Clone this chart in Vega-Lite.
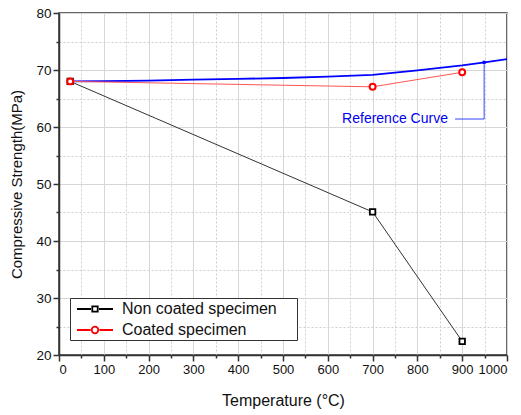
{
  "$schema": "https://vega.github.io/schema/vega-lite/v6.json",
  "width": 448,
  "height": 342,
  "autosize": {"type": "none"},
  "padding": {"left": 59, "top": 13, "right": 14, "bottom": 60},
  "config": {
    "font": "Liberation Sans",
    "view": {"stroke": "#333333", "strokeWidth": 1.5},
    "axis": {"labelFont": "Liberation Sans", "titleFont": "Liberation Sans", "labelColor": "#111", "titleColor": "#111", "titleFontWeight": "normal"}
  },
  "datasets": {
    "series": [
      {"temp": 25, "strength": 68.0, "series": "Non coated specimen"},
      {"temp": 700, "strength": 45.1, "series": "Non coated specimen"},
      {"temp": 900, "strength": 22.4, "series": "Non coated specimen"},
      {"temp": 25, "strength": 68.0, "series": "Coated specimen"},
      {"temp": 700, "strength": 67.05, "series": "Coated specimen"},
      {"temp": 900, "strength": 69.6, "series": "Coated specimen"}
    ],
    "ref": [
      {"temp": 25, "strength": 68.0},
      {"temp": 100, "strength": 68.05},
      {"temp": 200, "strength": 68.15},
      {"temp": 300, "strength": 68.3},
      {"temp": 400, "strength": 68.45},
      {"temp": 500, "strength": 68.6},
      {"temp": 600, "strength": 68.85},
      {"temp": 700, "strength": 69.15},
      {"temp": 800, "strength": 69.95},
      {"temp": 900, "strength": 70.8},
      {"temp": 950, "strength": 71.35},
      {"temp": 1000, "strength": 71.9}
    ],
    "leader": [
      {"temp": 884, "strength": 61.4, "order": 1},
      {"temp": 949, "strength": 61.4, "order": 2},
      {"temp": 949, "strength": 71.35, "order": 3}
    ],
    "annot": [
      {"temp": 750, "strength": 61.4, "label": "Reference Curve"}
    ]
  },
  "resolve": {"axis": {"x": "independent", "y": "independent"}},
  "layer": [
    {
      "data": {"name": "ref"},
      "mark": {"type": "line", "color": "#0000ff", "strokeWidth": 1.8},
      "encoding": {
        "x": {"field": "temp", "type": "quantitative", "scale": {"domain": [0, 1000], "nice": false},
          "axis": {"orient": "bottom", "values": [50,150,250,350,450,550,650,750,850,950], "labels": false, "domain": false, "ticks": true, "tickSize": 3, "tickColor": "#333", "tickWidth": 1.5, "grid": true, "gridColor": "#cfcfcf", "gridDash": [2, 2], "gridWidth": 1, "title": null}},
        "y": {"field": "strength", "type": "quantitative", "scale": {"domain": [20, 80], "nice": false, "zero": false},
          "axis": {"orient": "left", "values": [25,35,45,55,65,75], "labels": false, "domain": false, "ticks": true, "tickSize": 3, "tickColor": "#333", "tickWidth": 1.5, "grid": true, "gridColor": "#cfcfcf", "gridDash": [2, 2], "gridWidth": 1, "title": null}}
      }
    },
    {
      "data": {"name": "series"},
      "transform": [{"filter": "datum.series == 'Non coated specimen'"}],
      "mark": {"type": "line", "color": "#333333", "strokeWidth": 1},
      "encoding": {
        "x": {"field": "temp", "type": "quantitative",
          "axis": {"orient": "bottom", "values": [0,100,200,300,400,500,600,700,800,900,1000], "format": "d", "domain": true, "domainColor": "#333", "domainWidth": 1.5, "tickSize": 6, "tickColor": "#333", "tickWidth": 1.5, "labelFontSize": 13, "labelPadding": 2, "grid": true, "gridColor": "#d6d6d6", "gridWidth": 1, "title": "Temperature (°C)", "titleFontSize": 16, "titlePadding": 16}},
        "y": {"field": "strength", "type": "quantitative",
          "axis": {"orient": "left", "values": [20,30,40,50,60,70,80], "format": "d", "domain": true, "domainColor": "#333", "domainWidth": 1.5, "tickSize": 6, "tickColor": "#333", "tickWidth": 1.5, "labelFontSize": 13.5, "labelPadding": 2, "grid": true, "gridColor": "#d6d6d6", "gridWidth": 1, "title": "Compressive Strength(MPa)", "titleFontSize": 15, "titlePadding": 11}}
      }
    },
    {
      "data": {"name": "series"},
      "transform": [{"filter": "datum.series == 'Coated specimen'"}],
      "mark": {"type": "line", "color": "#ff5555", "strokeWidth": 1},
      "encoding": {
        "x": {"field": "temp", "type": "quantitative", "axis": null},
        "y": {"field": "strength", "type": "quantitative", "axis": null}
      }
    },
    {
      "data": {"name": "series"},
      "transform": [{"filter": "datum.series == 'Non coated specimen'"}],
      "mark": {"type": "point", "shape": "square", "filled": true, "fill": "white", "stroke": "#000000", "strokeWidth": 1.8, "size": 30, "opacity": 1},
      "encoding": {
        "x": {"field": "temp", "type": "quantitative", "axis": null},
        "y": {"field": "strength", "type": "quantitative", "axis": null}
      }
    },
    {
      "data": {"name": "series"},
      "transform": [{"filter": "datum.series == 'Coated specimen'"}],
      "mark": {"type": "point", "shape": "circle", "filled": true, "fill": "white", "stroke": "#ff0000", "strokeWidth": 2, "size": 35, "opacity": 1},
      "encoding": {
        "x": {"field": "temp", "type": "quantitative", "axis": null},
        "y": {"field": "strength", "type": "quantitative", "axis": null}
      }
    },
    {
      "data": {"name": "leader"},
      "mark": {"type": "line", "color": "#3344ff", "strokeWidth": 1},
      "encoding": {
        "x": {"field": "temp", "type": "quantitative", "axis": null},
        "y": {"field": "strength", "type": "quantitative", "axis": null},
        "order": {"field": "order"}
      }
    },
    {
      "data": {"name": "leader"},
      "transform": [{"filter": "datum.order == 3"}],
      "mark": {"type": "point", "shape": "square", "filled": true, "color": "#0000ff", "size": 10, "opacity": 1},
      "encoding": {
        "x": {"field": "temp", "type": "quantitative", "axis": null},
        "y": {"field": "strength", "type": "quantitative", "axis": null}
      }
    },
    {
      "data": {"name": "annot"},
      "mark": {"type": "text", "color": "#0000ee", "fontSize": 14, "font": "Liberation Sans", "align": "center", "baseline": "middle"},
      "encoding": {
        "x": {"field": "temp", "type": "quantitative", "axis": null},
        "y": {"field": "strength", "type": "quantitative", "axis": null},
        "text": {"field": "label"}
      }
    },
    {
      "data": {"name": "series"},
      "mark": {"type": "point", "filled": false, "opacity": 0, "size": 256},
      "encoding": {
        "x": {"field": "temp", "type": "quantitative", "axis": null},
        "y": {"field": "strength", "type": "quantitative", "axis": null},
        "color": {"field": "series", "type": "nominal",
          "scale": {"domain": ["Non coated specimen", "Coated specimen"], "range": ["#000000", "#ff0000"]},
          "legend": {"orient": "none", "legendX": 11, "legendY": 285, "title": null, "padding": 2, "strokeColor": "#333333", "fillColor": "white", "symbolSize": 256, "symbolStrokeWidth": 1.8, "symbolOpacity": 1, "labelFont": "Liberation Sans", "labelFontSize": 16, "labelColor": "#111", "labelOffset": 32, "rowPadding": 4, "labelLimit": 300, "labelExpr": "datum.label + '\u00a0\u00a0\u00a0\u00a0\u200b'"}},
        "shape": {"field": "series", "type": "nominal",
          "scale": {"domain": ["Non coated specimen", "Coated specimen"], "range": ["M-0.5,0H1.25M2.25,0H4M1.41,-0.34H2.09V0.34H1.41Z", "M-0.5,0H1.2M2.3,0H4M1.34,0A0.41,0.41 0 1,0 2.16,0A0.41,0.41 0 1,0 1.34,0Z"]},
          "legend": {"orient": "none", "legendX": 11, "legendY": 285, "title": null, "padding": 2, "strokeColor": "#333333", "fillColor": "white", "symbolSize": 256, "symbolStrokeWidth": 1.8, "symbolOpacity": 1, "labelFont": "Liberation Sans", "labelFontSize": 16, "labelColor": "#111", "labelOffset": 32, "rowPadding": 4, "labelLimit": 300, "labelExpr": "datum.label + '\u00a0\u00a0\u00a0\u00a0\u200b'"}}
      }
    }
  ]
}
